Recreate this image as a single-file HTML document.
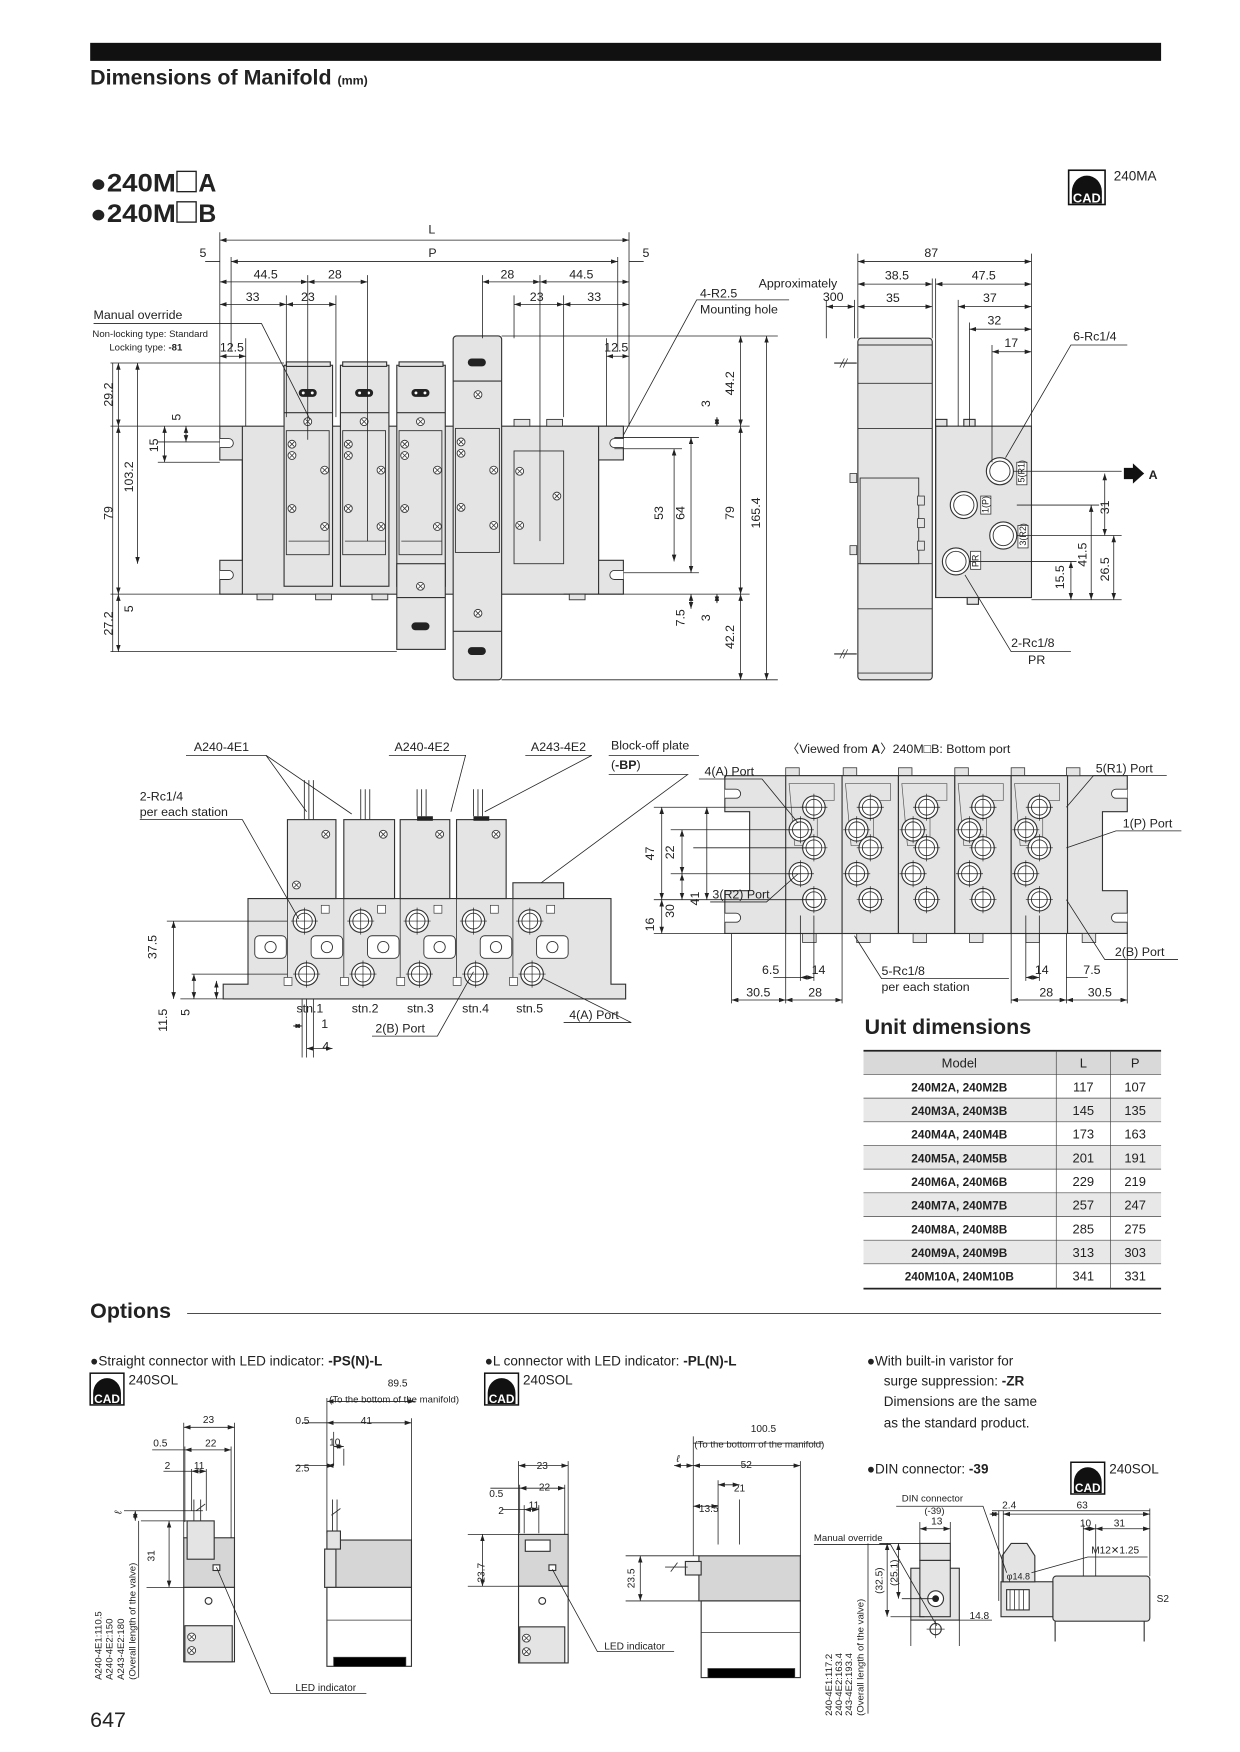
<!DOCTYPE html>
<html><head><meta charset="utf-8"><style>
html,body{margin:0;padding:0;background:#fff}
svg{display:block}
text{font-family:"Liberation Sans Narrow","Liberation Sans",sans-serif;fill:#222}
.d{stroke:#222;stroke-width:.7;fill:none}
.a{stroke:#222;stroke-width:.7;fill:none;marker-start:url(#ms);marker-end:url(#me)}
.b{fill:#e4e4e4;stroke:#333;stroke-width:1}
.w{fill:#fff;stroke:#333;stroke-width:1}
.t{font-size:11px}
.s{font-size:9px}
</style></head><body>
<svg width="1240" height="1752" viewBox="0 0 1100 1554" preserveAspectRatio="none" xmlns="http://www.w3.org/2000/svg">
<defs>
<marker id="me" markerWidth="6" markerHeight="4" refX="6" refY="2" orient="auto" markerUnits="userSpaceOnUse"><path d="M0,0 L6,2 L0,4z" fill="#222"/></marker>
<marker id="ms" markerWidth="6" markerHeight="4" refX="0" refY="2" orient="auto" markerUnits="userSpaceOnUse"><path d="M6,0 L0,2 L6,4z" fill="#222"/></marker>
<g id="cad"><rect x="0" y="0" width="34" height="32" fill="#fff" stroke="#111" stroke-width="1.5"/><path d="M3,20 A14,15 0 0 1 31,20 L31,31 L3,31z" fill="#111"/><text x="17" y="30" text-anchor="middle" style="font-size:12px;font-weight:bold;fill:#fff;font-family:'Liberation Sans',sans-serif">CAD</text></g>
<g id="scr"><circle r="3.5" fill="#fff" stroke="#333" stroke-width=".8"/><path d="M-2,-2L2,2M-2,2L2,-2" stroke="#333" stroke-width=".7"/></g>
<g id="port"><circle r="12" fill="#fff" stroke="#333" stroke-width="1"/><circle r="9" fill="none" stroke="#333" stroke-width=".8"/></g>
<g id="bport"><circle r="10" fill="#fff" stroke="#333"/><circle r="7" fill="none" stroke="#333" stroke-width=".8"/><path d="M-12,0H12M0,-12V12" stroke="#222" stroke-width=".6"/></g>
<g id="valve"><rect x="0" y="0" width="43" height="196" class="b"/><rect x="2" y="-3" width="39" height="4" class="b"/><rect x="13" y="21" width="16" height="7" rx="3.5" fill="#222"/><circle cx="17" cy="24.5" r="1.3" fill="#fff"/><circle cx="25" cy="24.5" r="1.3" fill="#fff"/><path d="M0,42H43" stroke="#333"/><use href="#scr" x="21" y="50"/><rect x="2" y="58" width="38" height="110" fill="none" stroke="#333" stroke-width=".8"/><use href="#scr" x="7" y="70"/><use href="#scr" x="7" y="80"/><use href="#scr" x="36" y="93"/><use href="#scr" x="7" y="127"/><use href="#scr" x="36" y="143"/><path d="M4,156H40" stroke="#333" stroke-width=".7"/></g>
</defs>

<!-- header -->
<rect x="80" y="38" width="950" height="16" fill="#111"/>
<text x="80" y="75" style="font-size:19px;font-weight:bold">Dimensions of Manifold <tspan style="font-size:11px">(mm)</tspan></text>
<text x="80" y="170" style="font-size:22px;font-weight:bold" textLength="76" lengthAdjust="spacingAndGlyphs">●240M</text>
<rect x="157" y="152" width="17" height="18" fill="#fff" stroke="#222" stroke-width="1.2"/>
<text x="176" y="170" style="font-size:22px;font-weight:bold">A</text>
<text x="80" y="197" style="font-size:22px;font-weight:bold" textLength="76" lengthAdjust="spacingAndGlyphs">●240M</text>
<rect x="157" y="179" width="17" height="18" fill="#fff" stroke="#222" stroke-width="1.2"/>
<text x="176" y="197" style="font-size:22px;font-weight:bold">B</text>
<use href="#cad" transform="translate(948,151) scale(0.95)"/>
<text x="988" y="160" class="t" style="font-size:12px">240MA</text>

<!-- FRONT VIEW -->
<path class="b" d="M195,378 H553 V408 H531 V497 H553 V527 H195 V497 H215 V408 H195 Z"/>
<path d="M215,378V527M531,378V527" stroke="#333"/>
<path d="M195,389h8a4,4 0 0 1 0,8h-8M195,506h8a4,4 0 0 1 0,8h-8M553,389h-8a4,4 0 0 0 0,8h8M553,506h-8a4,4 0 0 0 0,8h8" fill="#fff" stroke="#333" stroke-width=".8"/>
<g fill="#e4e4e4" stroke="#333" stroke-width=".8"><rect x="228" y="527" width="14" height="5"/><rect x="280" y="527" width="14" height="5"/><rect x="330" y="527" width="14" height="5"/><rect x="505" y="527" width="14" height="5"/><rect x="456" y="372" width="14" height="6"/><rect x="485" y="372" width="14" height="6"/></g>
<rect x="456" y="400" width="44" height="100" fill="none" stroke="#333" stroke-width=".8"/>
<use href="#scr" x="461" y="418"/><use href="#scr" x="494" y="440"/><use href="#scr" x="461" y="466"/>
<use href="#valve" x="252" y="324"/>
<use href="#valve" x="302" y="324"/>
<g><use href="#valve" x="352" y="324"/><rect x="352" y="500" width="43" height="76" class="b"/><rect x="365" y="552" width="16" height="7" rx="3.5" fill="#222"/><use href="#scr" x="373" y="520"/><path d="M352,530H395" stroke="#333"/></g>
<g><rect x="402" y="298" width="43" height="305" class="b" rx="3"/><rect x="415" y="318" width="16" height="7" rx="3.5" fill="#222"/><rect x="415" y="574" width="16" height="7" rx="3.5" fill="#222"/><path d="M402,338H445M402,560H445" stroke="#333"/><use href="#scr" x="424" y="350"/><use href="#scr" x="424" y="544"/><rect x="404" y="380" width="39" height="110" fill="none" stroke="#333" stroke-width=".8"/><use href="#scr" x="409" y="392"/><use href="#scr" x="409" y="402"/><use href="#scr" x="438" y="417"/><use href="#scr" x="409" y="450"/><use href="#scr" x="438" y="466"/></g>
<!-- front dims -->
<path class="d" d="M195,206V378M558,206V378M205,228V312M548,228V312M273,244V390M326,244V480M428,244V300M479,244V480M254,262V370M298,262V370M456,262V300M500,262V370M218,300V378M538,300V378"/>
<path class="a" d="M195,213H558"/><text x="380" y="207" class="t">L</text>
<path class="a" d="M205,232H548"/><text x="380" y="228" class="t">P</text>
<path class="d" d="M182,232H195M558,232H571"/><text x="177" y="228" class="t">5</text><text x="570" y="228" class="t">5</text>
<path class="a" d="M195,250H273"/><path class="a" d="M273,250H326"/><path class="a" d="M428,250H479"/><path class="a" d="M479,250H558"/>
<text x="225" y="247" class="t">44.5</text><text x="291" y="247" class="t">28</text><text x="444" y="247" class="t">28</text><text x="505" y="247" class="t">44.5</text>
<path class="a" d="M195,270H254"/><path class="a" d="M254,270H298"/><path class="a" d="M456,270H500"/><path class="a" d="M500,270H558"/>
<text x="218" y="267" class="t">33</text><text x="267" y="267" class="t">23</text><text x="470" y="267" class="t">23</text><text x="521" y="267" class="t">33</text>
<path class="a" d="M195,316H218"/><text x="195" y="312" class="t">12.5</text>
<path class="a" d="M538,316H558"/><text x="536" y="312" class="t">12.5</text>
<text x="83" y="283" class="t">Manual override</text>
<text x="82" y="299" class="s" style="font-size:8.5px">Non-locking type: Standard</text>
<text x="97" y="311" class="s" style="font-size:8.5px">Locking type: <tspan font-weight="bold">-81</tspan></text>
<path class="d" d="M83,287H232L275,372"/>
<text x="621" y="264" class="t">4-R2.5</text><text x="621" y="278" class="t">Mounting hole</text>
<path class="d" d="M700,266H618L553,386"/>
<!-- left verticals -->
<path class="d" d="M98,322H252M98,378H195M98,527H215M98,578H352M140,392H195M140,410H195M100,322V578"/>
<path class="a" d="M105,322V378"/><path class="a" d="M105,378V527"/><path class="a" d="M105,527V578"/><path class="a" d="M122,322V500"/>
<path class="a" d="M146,378V410"/><path class="a" d="M165,378V392"/>
<text transform="translate(100,350) rotate(-90)" class="t" text-anchor="middle">29.2</text>
<text transform="translate(100,455) rotate(-90)" class="t" text-anchor="middle">79</text>
<text transform="translate(100,553) rotate(-90)" class="t" text-anchor="middle">27.2</text>
<text transform="translate(118,423) rotate(-90)" class="t" text-anchor="middle">103.2</text>
<text transform="translate(140,395) rotate(-90)" class="t" text-anchor="middle">15</text>
<text transform="translate(160,370) rotate(-90)" class="t" text-anchor="middle">5</text>
<text transform="translate(118,540) rotate(-90)" class="t" text-anchor="middle">5</text>
<!-- right verticals -->
<path class="d" d="M445,298H690M500,378H665M545,398H605M545,388H620M500,527H665M445,603H690M553,508H620"/>
<path class="a" d="M598,398V498"/><path class="a" d="M613,388V508"/><path class="a" d="M657,378V527"/><path class="a" d="M680,298V603"/><path class="a" d="M657,298V378"/><path class="a" d="M657,527V603"/><path class="a" d="M636,370V378"/><path class="a" d="M636,527V535"/><path class="a" d="M613,527V540"/>
<text transform="translate(588,455) rotate(-90)" class="t" text-anchor="middle">53</text>
<text transform="translate(607,455) rotate(-90)" class="t" text-anchor="middle">64</text>
<text transform="translate(651,455) rotate(-90)" class="t" text-anchor="middle">79</text>
<text transform="translate(674,455) rotate(-90)" class="t" text-anchor="middle">165.4</text>
<text transform="translate(651,340) rotate(-90)" class="t" text-anchor="middle">44.2</text>
<text transform="translate(651,565) rotate(-90)" class="t" text-anchor="middle">42.2</text>
<text transform="translate(630,358) rotate(-90)" class="t" text-anchor="middle">3</text>
<text transform="translate(630,548) rotate(-90)" class="t" text-anchor="middle">3</text>
<text transform="translate(607,548) rotate(-90)" class="t" text-anchor="middle">7.5</text>

<!-- SIDE VIEW -->
<rect x="761" y="300" width="66" height="303" class="b" rx="3"/>
<path d="M761,340H827M761,380H827M761,500H827M761,540H827M761,306H827M761,597H827" stroke="#333" stroke-width=".8"/>
<rect x="763" y="424" width="52" height="76" fill="none" stroke="#333" stroke-width=".8"/>
<g fill="#e4e4e4" stroke="#333" stroke-width=".7"><rect x="814" y="440" width="6" height="8"/><rect x="814" y="460" width="6" height="8"/><rect x="814" y="480" width="6" height="8"/><rect x="754" y="420" width="6" height="8"/><rect x="754" y="484" width="6" height="8"/></g>
<path d="M740,322H760M740,580H760" stroke="#222"/><path d="M745,326l4,-8M748,326l4,-8M745,584l4,-8M748,584l4,-8" stroke="#222" stroke-width=".6"/>
<rect x="830" y="378" width="85" height="152" class="b"/>
<path d="M830,378V530" stroke="#333"/>
<rect x="830" y="372" width="10" height="6" class="b"/><rect x="855" y="372" width="10" height="6" class="b"/><rect x="858" y="530" width="10" height="6" class="b"/>
<use href="#port" x="887" y="418"/><use href="#port" x="855" y="448"/><use href="#port" x="890" y="475"/><use href="#port" x="848" y="498"/>
<g class="s" style="font-size:8px"><rect x="902" y="410" width="9" height="20" fill="#fff" stroke="#333" stroke-width=".7"/><text transform="translate(909,428) rotate(-90)">5(R1)</text>
<rect x="870" y="440" width="9" height="16" fill="#fff" stroke="#333" stroke-width=".7"/><text transform="translate(877,455) rotate(-90)">1(P)</text>
<rect x="903" y="466" width="9" height="20" fill="#fff" stroke="#333" stroke-width=".7"/><text transform="translate(910,484) rotate(-90)">3(R2)</text>
<rect x="861" y="489" width="9" height="16" fill="#fff" stroke="#333" stroke-width=".7"/><text transform="translate(868,503) rotate(-90)">PR</text></g>
<path class="d" d="M761,225V300M915,225V378M827,247V300M830,247V378M850,266V378M860,286V378M880,306V410M733,266V300M758,266V300"/>
<path class="a" d="M761,232H915"/><text x="820" y="228" class="t">87</text>
<path class="a" d="M761,252H827"/><text x="785" y="248" class="t">38.5</text>
<path class="a" d="M830,252H915"/><text x="862" y="248" class="t">47.5</text>
<path class="a" d="M761,272H827"/><text x="786" y="268" class="t">35</text>
<path class="a" d="M850,272H915"/><text x="872" y="268" class="t">37</text>
<path class="a" d="M860,292H915"/><text x="876" y="288" class="t">32</text>
<path class="a" d="M880,312H915"/><text x="891" y="308" class="t">17</text>
<path class="a" d="M733,272H758"/>
<text x="673" y="255" class="t">Approximately</text><text x="730" y="267" class="t">300</text>
<text x="952" y="302" class="t">6-Rc1/4</text><path class="d" d="M1000,306H950L892,406"/>
<text x="897" y="574" class="t">2-Rc1/8</text><text x="912" y="589" class="t">PR</text><path class="d" d="M950,578H897L856,510"/>
<path d="M997,415h8v-4l10,9l-10,9v-4h-8z" fill="#111"/><text x="1019" y="425" class="t" font-weight="bold">A</text>
<path class="d" d="M899,418H995M902,448H975M902,475H995M860,498H955M915,532H995"/>
<path class="a" d="M980,420V475"/><path class="a" d="M968,448V532"/><path class="a" d="M988,475V532"/><path class="a" d="M950,498V532"/>
<text transform="translate(984,450) rotate(-90)" class="t" text-anchor="middle">31</text>
<text transform="translate(964,492) rotate(-90)" class="t" text-anchor="middle">41.5</text>
<text transform="translate(984,505) rotate(-90)" class="t" text-anchor="middle">26.5</text>
<text transform="translate(944,512) rotate(-90)" class="t" text-anchor="middle">15.5</text>

<!-- TOP VIEW (middle left) -->
<path class="b" d="M220,797H542V873H555V886H198V873H220Z"/>
<rect x="455" y="783" width="45" height="14" class="b"/>
<g><rect x="255" y="727" width="43" height="70" class="b"/><use href="#scr" x="289" y="740"/><use href="#scr" x="263" y="785"/></g>
<rect x="305" y="727" width="45" height="70" class="b"/><use href="#scr" x="340" y="740"/>
<rect x="355" y="727" width="44" height="70" class="b"/><use href="#scr" x="390" y="740"/><rect x="370" y="724" width="14" height="4" fill="#222"/>
<rect x="405" y="727" width="44" height="70" class="b"/><use href="#scr" x="440" y="740"/><rect x="420" y="724" width="14" height="4" fill="#222"/>
<path d="M270,692V727M274,692V727M278,692V727M320,700V727M324,700V727M328,700V727M370,700V724M374,700V724M378,700V724M420,700V724M424,700V724M428,700V724" stroke="#333" stroke-width=".8"/>
<path d="M255,797V873M305,797V873M355,797V873M405,797V873M455,797V873" stroke="#333" stroke-width=".7"/>
<g><use href="#bport" x="270" y="817"/><use href="#bport" x="320" y="817"/><use href="#bport" x="370" y="817"/><use href="#bport" x="420" y="817"/><use href="#bport" x="470" y="817"/>
<use href="#bport" x="272" y="864"/><use href="#bport" x="322" y="864"/><use href="#bport" x="372" y="864"/><use href="#bport" x="422" y="864"/><use href="#bport" x="472" y="864"/></g>
<g fill="#fff" stroke="#333" stroke-width=".8"><rect x="226" y="830" width="28" height="20" rx="4"/><rect x="276" y="830" width="28" height="20" rx="4"/><rect x="326" y="830" width="28" height="20" rx="4"/><rect x="376" y="830" width="28" height="20" rx="4"/><rect x="426" y="830" width="28" height="20" rx="4"/><rect x="476" y="830" width="28" height="20" rx="4"/>
<circle cx="240" cy="840" r="5"/><circle cx="290" cy="840" r="5"/><circle cx="340" cy="840" r="5"/><circle cx="390" cy="840" r="5"/><circle cx="440" cy="840" r="5"/><circle cx="490" cy="840" r="5"/></g>
<g><rect x="285" y="803" width="7" height="7" fill="#fff" stroke="#333" stroke-width=".6"/><rect x="335" y="803" width="7" height="7" fill="#fff" stroke="#333" stroke-width=".6"/><rect x="385" y="803" width="7" height="7" fill="#fff" stroke="#333" stroke-width=".6"/><rect x="435" y="803" width="7" height="7" fill="#fff" stroke="#333" stroke-width=".6"/><rect x="485" y="803" width="7" height="7" fill="#fff" stroke="#333" stroke-width=".6"/>
<rect x="252" y="867" width="7" height="7" fill="#fff" stroke="#333" stroke-width=".6"/><rect x="302" y="867" width="7" height="7" fill="#fff" stroke="#333" stroke-width=".6"/><rect x="352" y="867" width="7" height="7" fill="#fff" stroke="#333" stroke-width=".6"/><rect x="402" y="867" width="7" height="7" fill="#fff" stroke="#333" stroke-width=".6"/><rect x="452" y="867" width="7" height="7" fill="#fff" stroke="#333" stroke-width=".6"/></g>
<text x="172" y="666" class="t">A240-4E1</text><text x="350" y="666" class="t">A240-4E2</text><text x="471" y="666" class="t">A243-4E2</text>
<text x="542" y="665" class="t">Block-off plate</text><text x="542" y="682" class="t">(<tspan font-weight="bold">-BP</tspan>)</text>
<path class="d" d="M165,670H236L272,720M345,670H413L400,720M466,670H525L430,720M540,670H620M540,687H610L480,783"/>
<path class="d" d="M236,670L312,722"/>
<text x="124" y="710" class="t">2-Rc1/4</text><text x="124" y="724" class="t">per each station</text>
<path class="d" d="M124,727H215L265,815"/>
<text x="263" y="898" class="t">stn.1</text><text x="312" y="898" class="t">stn.2</text><text x="361" y="898" class="t">stn.3</text><text x="410" y="898" class="t">stn.4</text><text x="458" y="898" class="t">stn.5</text>
<text x="333" y="916" class="t">2(B) Port</text><text x="505" y="904" class="t">4(A) Port</text>
<path class="d" d="M330,919H388L420,862M500,907H560L482,868"/>
<path class="d" d="M148,817H255M170,864H255M160,886H198M268,886V938M272,886V938M278,886V938"/>
<path class="a" d="M154,817V886"/><path class="a" d="M172,864V886"/><path class="a" d="M192,870V886"/>
<path class="a" d="M260,910H268"/><path class="a" d="M272,930H295"/>
<text transform="translate(139,840) rotate(-90)" class="t" text-anchor="middle">37.5</text>
<text transform="translate(148,905) rotate(-90)" class="t" text-anchor="middle">11.5</text>
<text transform="translate(168,898) rotate(-90)" class="t" text-anchor="middle">5</text>
<text x="285" y="912" class="t">1</text><text x="286" y="932" class="t">4</text>

<!-- BOTTOM VIEW -->
<path class="b" d="M643,688H1000V720H978V790H1000V828H643V790H665V720H643Z"/>
<path d="M643,700h10a4,4 0 0 1 0,8h-10M643,810h10a4,4 0 0 1 0,8h-10M1000,700h-10a4,4 0 0 0 0,8h10M1000,810h-10a4,4 0 0 0 0,8h10" fill="#fff" stroke="#333" stroke-width=".8"/>
<g fill="#e4e4e4" stroke="#333" stroke-width=".7">
<rect x="697" y="681" width="12" height="7"/><rect x="748" y="681" width="12" height="7"/><rect x="797" y="681" width="12" height="7"/><rect x="847" y="681" width="12" height="7"/><rect x="897" y="681" width="12" height="7"/><rect x="946" y="681" width="12" height="7"/>
<rect x="712" y="828" width="12" height="8"/><rect x="760" y="828" width="12" height="8"/><rect x="810" y="828" width="12" height="8"/><rect x="860" y="828" width="12" height="8"/><rect x="910" y="828" width="12" height="8"/><rect x="960" y="828" width="12" height="8"/></g>
<g id="st"><rect x="697" y="688" width="50" height="140" fill="#e4e4e4" stroke="#333"/><path d="M700,695h40v15h-15v40h-20z" fill="none" stroke="#555" stroke-width=".6"/>
<use href="#bport" x="710" y="736"/><use href="#bport" x="710" y="775"/><use href="#bport" x="722" y="716"/><use href="#bport" x="722" y="752"/><use href="#bport" x="722" y="798"/></g>
<use href="#st" x="50"/><use href="#st" x="100"/><use href="#st" x="150"/><use href="#st" x="200"/>
<text x="698" y="668" class="t">〈Viewed from <tspan font-weight="bold">A</tspan>〉240M□B: Bottom port</text>
<text x="625" y="688" class="t">4(A) Port</text><path class="d" d="M620,691H676L708,730"/>
<text x="972" y="685" class="t">5(R1) Port</text><path class="d" d="M1035,688H970L946,716"/>
<text x="996" y="734" class="t">1(P) Port</text><path class="d" d="M1048,737H990L946,752"/>
<text x="989" y="848" class="t">2(B) Port</text><path class="d" d="M1045,851H980L946,798"/>
<text x="632" y="797" class="t">3(R2) Port</text><path class="d" d="M630,800H680L708,775"/>
<path class="d" d="M580,716H722M595,736H710M615,752H722M595,775H710M580,798H722M580,828H643"/>
<path class="a" d="M587,716V798"/><path class="a" d="M605,736V775"/><path class="a" d="M627,716V798"/><path class="a" d="M605,775V798"/><path class="a" d="M587,798V828"/>
<text transform="translate(580,757) rotate(-90)" class="t" text-anchor="middle">47</text>
<text transform="translate(598,756) rotate(-90)" class="t" text-anchor="middle">22</text>
<text transform="translate(620,797) rotate(-90)" class="t" text-anchor="middle">41</text>
<text transform="translate(598,808) rotate(-90)" class="t" text-anchor="middle">30</text>
<text transform="translate(580,820) rotate(-90)" class="t" text-anchor="middle">16</text>
<path class="d" d="M649,828V890M697,828V890M710,812V870M722,812V870M747,828V890M897,828V890M910,812V870M922,812V870M946,828V890M1000,828V890"/>
<path class="a" d="M649,887H697"/><path class="a" d="M697,887H747"/><path class="a" d="M710,867H722"/><path class="a" d="M897,887H946"/><path class="a" d="M946,887H1000"/><path class="a" d="M910,867H922"/><path class="d" d="M686,867H710M946,867H965"/>
<text x="676" y="864" class="t">6.5</text><text x="720" y="864" class="t">14</text><text x="662" y="884" class="t">30.5</text><text x="717" y="884" class="t">28</text>
<text x="918" y="864" class="t">14</text><text x="961" y="864" class="t">7.5</text><text x="922" y="884" class="t">28</text><text x="965" y="884" class="t">30.5</text>
<text x="782" y="865" class="t">5-Rc1/8</text><text x="782" y="879" class="t">per each station</text><path class="d" d="M895,868H782L758,830"/>

<!-- TABLE -->
<text x="767" y="917" style="font-size:19px;font-weight:bold">Unit dimensions</text>
<rect x="766" y="932" width="264" height="21" fill="#d9d9d9"/>
<g fill="#e8e8e8"><rect x="766" y="974" width="264" height="21"/><rect x="766" y="1016" width="264" height="21"/><rect x="766" y="1058" width="264" height="21"/><rect x="766" y="1100" width="264" height="21"/></g>
<path d="M766,932H1030M766,1143H1030" stroke="#222" stroke-width="1.6"/>
<path d="M766,953H1030M766,974H1030M766,995H1030M766,1016H1030M766,1037H1030M766,1058H1030M766,1079H1030M766,1100H1030M766,1121H1030M937,932V1143M985,932V1143" stroke="#444" stroke-width=".6"/>
<g class="t" text-anchor="middle" style="font-size:11.5px">
<text x="851" y="947">Model</text><text x="961" y="947">L</text><text x="1007" y="947">P</text>
<g font-weight="bold" style="font-size:10.5px"><text x="851" y="968">240M2A, 240M2B</text><text x="851" y="989">240M3A, 240M3B</text><text x="851" y="1010">240M4A, 240M4B</text><text x="851" y="1031">240M5A, 240M5B</text><text x="851" y="1052">240M6A, 240M6B</text><text x="851" y="1073">240M7A, 240M7B</text><text x="851" y="1094">240M8A, 240M8B</text><text x="851" y="1115">240M9A, 240M9B</text><text x="851" y="1136">240M10A, 240M10B</text></g>
<text x="961" y="968">117</text><text x="1007" y="968">107</text><text x="961" y="989">145</text><text x="1007" y="989">135</text><text x="961" y="1010">173</text><text x="1007" y="1010">163</text><text x="961" y="1031">201</text><text x="1007" y="1031">191</text><text x="961" y="1052">229</text><text x="1007" y="1052">219</text><text x="961" y="1073">257</text><text x="1007" y="1073">247</text><text x="961" y="1094">285</text><text x="1007" y="1094">275</text><text x="961" y="1115">313</text><text x="1007" y="1115">303</text><text x="961" y="1136">341</text><text x="1007" y="1136">331</text>
</g>

<!-- OPTIONS -->
<text x="80" y="1169" style="font-size:19px;font-weight:bold">Options</text>
<path d="M166,1165H1030" stroke="#333" stroke-width=".8"/>
<text x="80" y="1211" style="font-size:12px">●Straight connector with LED indicator: <tspan font-weight="bold">-PS(N)-L</tspan></text>
<use href="#cad" transform="translate(80,1218) scale(0.88)"/><text x="114" y="1228" style="font-size:12px">240SOL</text>
<text x="430" y="1211" style="font-size:12px">●L connector with LED indicator: <tspan font-weight="bold">-PL(N)-L</tspan></text>
<use href="#cad" transform="translate(430,1218) scale(0.88)"/><text x="464" y="1228" style="font-size:12px">240SOL</text>
<text x="769" y="1211" style="font-size:12px">●With built-in varistor for</text>
<text x="784" y="1229" style="font-size:12px">surge suppression: <tspan font-weight="bold">-ZR</tspan></text>
<text x="784" y="1247" style="font-size:12px">Dimensions are the same</text>
<text x="784" y="1266" style="font-size:12px">as the standard product.</text>
<text x="769" y="1307" style="font-size:12px">●DIN connector: <tspan font-weight="bold">-39</tspan></text>
<use href="#cad" transform="translate(950,1297) scale(0.88)"/><text x="984" y="1307" style="font-size:12px">240SOL</text>

<!-- opt1 front -->
<rect x="163" y="1364" width="45" height="44" fill="#d6d6d6" stroke="#333"/>
<rect x="163" y="1408" width="45" height="66" fill="#fff" stroke="#333"/>
<rect x="164" y="1442" width="42" height="32" fill="#e4e4e4" stroke="#333"/>
<use href="#scr" x="170" y="1452"/><use href="#scr" x="170" y="1464"/><circle cx="185" cy="1420" r="3" fill="none" stroke="#333"/>
<rect x="166" y="1349" width="24" height="34" fill="#e4e4e4" stroke="#333"/>
<path d="M172,1330V1349M178,1330V1349M174,1340l8,-6" stroke="#333" stroke-width=".8"/>
<rect x="189" y="1388" width="6" height="5" fill="#fff" stroke="#333"/>
<path class="d" d="M163,1262V1364M208,1262V1364M164,1283V1350M205,1283V1364M170,1303V1340M183,1303V1340M110,1340H180M125,1349H166M130,1408H163"/>
<path class="a" d="M163,1266H208"/><path class="a" d="M164,1286H205"/><path class="a" d="M170,1305H183"/><path class="d" d="M135,1286H164M145,1305H170"/>
<text x="180" y="1262" class="s">23</text><text x="182" y="1283" class="s">22</text><text x="136" y="1283" class="s">0.5</text><text x="146" y="1303" class="s">2</text><text x="172" y="1303" class="s">11</text>
<path class="a" d="M150,1349V1408"/><path class="a" d="M120,1340V1349"/>
<text transform="translate(137,1380) rotate(-90)" class="s" text-anchor="middle">31</text>
<text transform="translate(108,1343) rotate(-90)" class="s" style="font-style:italic">ℓ</text>
<path class="d" d="M123,1349V1488"/>
<g class="s" style="font-size:8.5px"><text transform="translate(90,1490) rotate(-90)">A240-4E1:110.5</text><text transform="translate(100,1490) rotate(-90)">A240-4E2:150</text><text transform="translate(110,1490) rotate(-90)">A243-4E2:180</text><text transform="translate(120,1490) rotate(-90)">(Overall length of the valve)</text></g>
<path class="d" d="M192,1390L240,1502H325"/><text x="262" y="1500" class="s">LED indicator</text>
<!-- opt1 side -->
<rect x="296" y="1366" width="69" height="42" fill="#d6d6d6" stroke="#333"/>
<rect x="288" y="1374" width="10" height="34" fill="#e4e4e4" stroke="#333"/>
<rect x="290" y="1358" width="12" height="16" fill="#e4e4e4" stroke="#333"/>
<path d="M295,1330V1358M299,1330V1358M294,1344l8,-6" stroke="#333" stroke-width=".8"/>
<rect x="290" y="1408" width="75" height="70" fill="#fff" stroke="#333"/><path d="M290,1437H365M296,1478V1470H360V1478" stroke="#333" stroke-width=".7"/>
<path class="d" d="M290,1240V1360M365,1258V1366M296,1270V1300M305,1285V1300M292,1243H368M290,1262H268M290,1300H262"/>
<path class="a" d="M290,1262H365"/><path class="a" d="M296,1283H305"/><path class="a" d="M290,1300H296"/><path class="a" d="M290,1243H368"/>
<text x="344" y="1230" class="s" style="font-size:9px">89.5</text><text x="292" y="1244" class="s" style="font-size:8.5px">(To the bottom of the manifold)</text>
<text x="262" y="1263" class="s">0.5</text><text x="320" y="1263" class="s">41</text><text x="292" y="1282" class="s">10</text><text x="262" y="1305" class="s">2.5</text>
<!-- opt2 front -->
<rect x="460" y="1361" width="44" height="46" fill="#d6d6d6" stroke="#333"/>
<rect x="460" y="1407" width="44" height="68" fill="#fff" stroke="#333"/>
<rect x="461" y="1443" width="40" height="32" fill="#e4e4e4" stroke="#333"/>
<rect x="466" y="1366" width="22" height="10" fill="#fff" stroke="#333"/><use href="#scr" x="467" y="1453"/><use href="#scr" x="467" y="1465"/><circle cx="481" cy="1420" r="3" fill="none" stroke="#333"/>
<rect x="487" y="1388" width="6" height="5" fill="#fff" stroke="#333"/>
<path class="d" d="M460,1296V1361M504,1296V1361M461,1317V1360M501,1317V1361M465,1335V1360M478,1335V1360M415,1361H460M415,1407H460"/>
<path class="a" d="M460,1300H504"/><path class="a" d="M461,1320H501"/><path class="a" d="M465,1339H478"/><path class="d" d="M435,1320H461M445,1339H465"/><path class="a" d="M428,1361V1407"/>
<text x="476" y="1303" class="s">23</text><text x="478" y="1322" class="s">22</text><text x="434" y="1328" class="s">0.5</text><text x="442" y="1343" class="s">2</text><text x="469" y="1338" class="s">11</text>
<text transform="translate(430,1395) rotate(-90)" class="s" text-anchor="middle">23.7</text>
<path class="d" d="M490,1392L530,1465H598"/><text x="536" y="1463" class="s">LED indicator</text>
<!-- opt2 side -->
<rect x="620" y="1380" width="90" height="40" fill="#d6d6d6" stroke="#333"/>
<rect x="608" y="1385" width="14" height="12" fill="#e4e4e4" stroke="#333"/>
<path d="M590,1390H610M595,1394l6,-8" stroke="#333" stroke-width=".8"/>
<rect x="622" y="1420" width="88" height="68" fill="#fff" stroke="#333"/><path d="M622,1448H710M628,1488V1480H705V1488" stroke="#333" stroke-width=".7"/>
<path class="d" d="M615,1274V1380M710,1296V1380M637,1313V1370M656,1330V1370M555,1380H620M555,1420H620M615,1280H730"/>
<path class="a" d="M615,1300H710"/><path class="a" d="M637,1317H656"/><path class="a" d="M615,1336H637"/><path class="a" d="M598,1300H615"/><path class="a" d="M568,1380V1420"/>
<text x="666" y="1270" class="s" style="font-size:9px">100.5</text><text x="616" y="1284" class="s" style="font-size:8.5px">(To the bottom of the manifold)</text>
<text x="657" y="1302" class="s">52</text><text x="651" y="1323" class="s">21</text><text x="620" y="1341" class="s">13.5</text><text x="600" y="1297" class="s" style="font-style:italic">ℓ</text>
<text transform="translate(563,1400) rotate(-90)" class="s" text-anchor="middle">23.5</text>
<!-- DIN front -->
<rect x="808" y="1391" width="43" height="46" fill="#e4e4e4" stroke="#333"/>
<rect x="816" y="1384" width="27" height="50" fill="#e4e4e4" stroke="#333"/>
<rect x="816" y="1369" width="27" height="15" fill="#e4e4e4" stroke="#333"/>
<circle cx="830" cy="1418" r="7" fill="#fff" stroke="#333"/><circle cx="830" cy="1418" r="3" fill="#222"/>
<circle cx="830" cy="1445" r="5" fill="#fff" stroke="#333"/><path d="M822,1445H838M830,1437V1453" stroke="#333" stroke-width=".6"/>
<path class="d" d="M808,1437V1460M851,1437V1460M816,1350V1369M843,1350V1369M780,1369H816M790,1434H820M800,1418H830M851,1437H880"/>
<path class="a" d="M816,1356H843"/><path class="a" d="M787,1369V1434"/><path class="a" d="M797,1369V1418"/>
<text x="826" y="1352" class="s">13</text><text x="860" y="1436" class="s">14.8</text>
<text transform="translate(783,1402) rotate(-90)" class="s" text-anchor="middle">(32.5)</text>
<text transform="translate(796,1395) rotate(-90)" class="s" text-anchor="middle">(25.1)</text>
<text x="722" y="1367" class="s" style="font-size:8.5px">Manual override</text><path class="d" d="M722,1370H790L831,1442"/>
<path class="d" d="M770,1369V1520"/>
<g class="s" style="font-size:8.5px"><text transform="translate(738,1522) rotate(-90)">240-4E1:117.2</text><text transform="translate(747,1522) rotate(-90)">240-4E2:163.4</text><text transform="translate(756,1522) rotate(-90)">243-4E2:193.4</text><text transform="translate(766,1522) rotate(-90)">(Overall length of the valve)</text></g>
<!-- DIN side -->
<rect x="934" y="1398" width="86" height="40" fill="#e4e4e4" stroke="#333" rx="3"/>
<rect x="888" y="1403" width="46" height="31" fill="#e4e4e4" stroke="#333"/>
<rect x="893" y="1410" width="20" height="18" fill="#fff" stroke="#333"/>
<path d="M896,1410V1428M900,1410V1428M904,1410V1428M908,1410V1428" stroke="#333" stroke-width=".7"/>
<path d="M889,1403V1380l8,-11h14l7,11V1403z" fill="#e4e4e4" stroke="#333"/>
<path d="M936,1438V1456M1015,1438V1456" stroke="#333"/>
<path class="d" d="M886,1340V1420M890,1340V1403M1020,1338V1398M961,1352V1398M972,1352V1398M880,1340H1020"/>
<path class="a" d="M890,1343H1020"/><path class="a" d="M961,1356H972"/><path class="a" d="M972,1356H1020"/><path class="a" d="M878,1343H886"/>
<text x="889" y="1338" class="s">2.4</text><text x="955" y="1338" class="s">63</text><text x="958" y="1354" class="s">10</text><text x="988" y="1354" class="s">31</text>
<text x="968" y="1378" class="s">M12✕1.25</text><path class="d" d="M1018,1381H965L915,1395"/>
<text x="893" y="1401" class="s" style="font-size:8px">φ14.8</text>
<text x="1026" y="1421" class="s">S2</text>
<text x="800" y="1332" class="s" style="font-size:8.5px">DIN connector</text><text x="820" y="1343" class="s" style="font-size:8.5px">(-39)</text>
<path class="d" d="M795,1336H872L893,1395"/>

<text x="80" y="1532" style="font-size:19px">647</text>
</svg>
</body></html>
